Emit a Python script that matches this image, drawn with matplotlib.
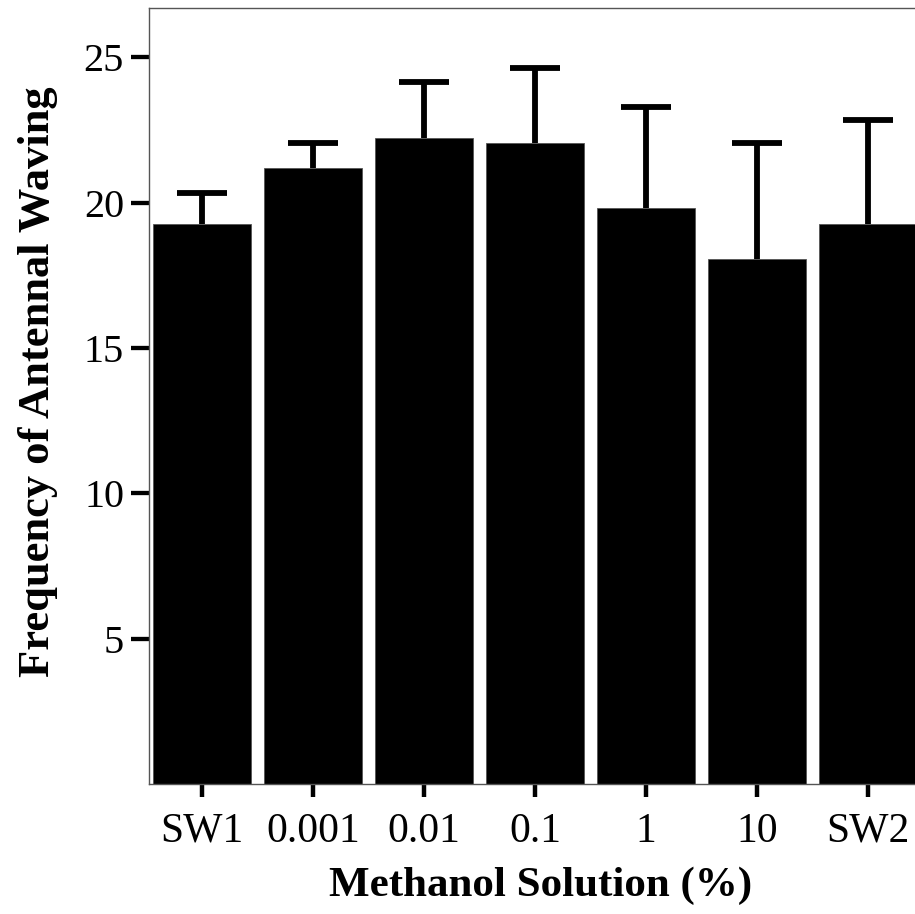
import matplotlib.pyplot as plt
import numpy as np

# values
groups = ["SW1", "0.001", "0.01", "0.1", "1", "10", "SW2"]
means = [19.28, 21.21, 22.24, 22.05, 19.83, 18.08, 19.28]
upper = [20.35, 22.04, 24.17, 24.62, 23.31, 22.04, 22.86]
yticks = [5, 10, 15, 20, 25]

plt.rcParams['font.family'] = ['Liberation Serif', 'DejaVu Serif']

err = np.array(upper) - np.array(means)
x = np.arange(len(groups))

fig = plt.figure(figsize=(9.15, 9.14), dpi=100)
ax = fig.add_axes([149 / 915, 1 - 784 / 914, 772 / 915, 776 / 914])

ax.bar(x, means, width=0.875, color='black', edgecolor='#555555', linewidth=0.6, zorder=2)
eb = ax.errorbar(x, means, yerr=[np.zeros_like(err), err], fmt='none', ecolor='black',
                 elinewidth=4.2, capsize=18, capthick=4.2, zorder=1)
# only the upper cap, like the reference
eb[1][0].set_visible(False)

ax.set_xlim(-0.477, 6.477)
ax.set_ylim(0, 26.7)
ax.set_xticks(x)
ax.set_xticklabels(groups)
ax.set_yticks(yticks)

for s in ax.spines.values():
    s.set_color('#555555')
    s.set_linewidth(1.0)

ax.tick_params(axis='y', length=13, width=3.1, color='black', labelsize=29, pad=5)
ax.tick_params(axis='x', length=9.5, width=3.2, color='black', labelsize=30, pad=11)

ax.set_xlabel("Methanol Solution (%)", fontsize=31, fontweight='bold')
ax.xaxis.set_label_coords((541 - 149) / 772, (784 - 867) / 776)
ax.set_ylabel("Frequency of Antennal Waving", fontsize=32, fontweight='bold')
ax.yaxis.set_label_coords((58 - 149) / 772, (784 - 382) / 776)

fig.savefig("out.png", dpi=100)
